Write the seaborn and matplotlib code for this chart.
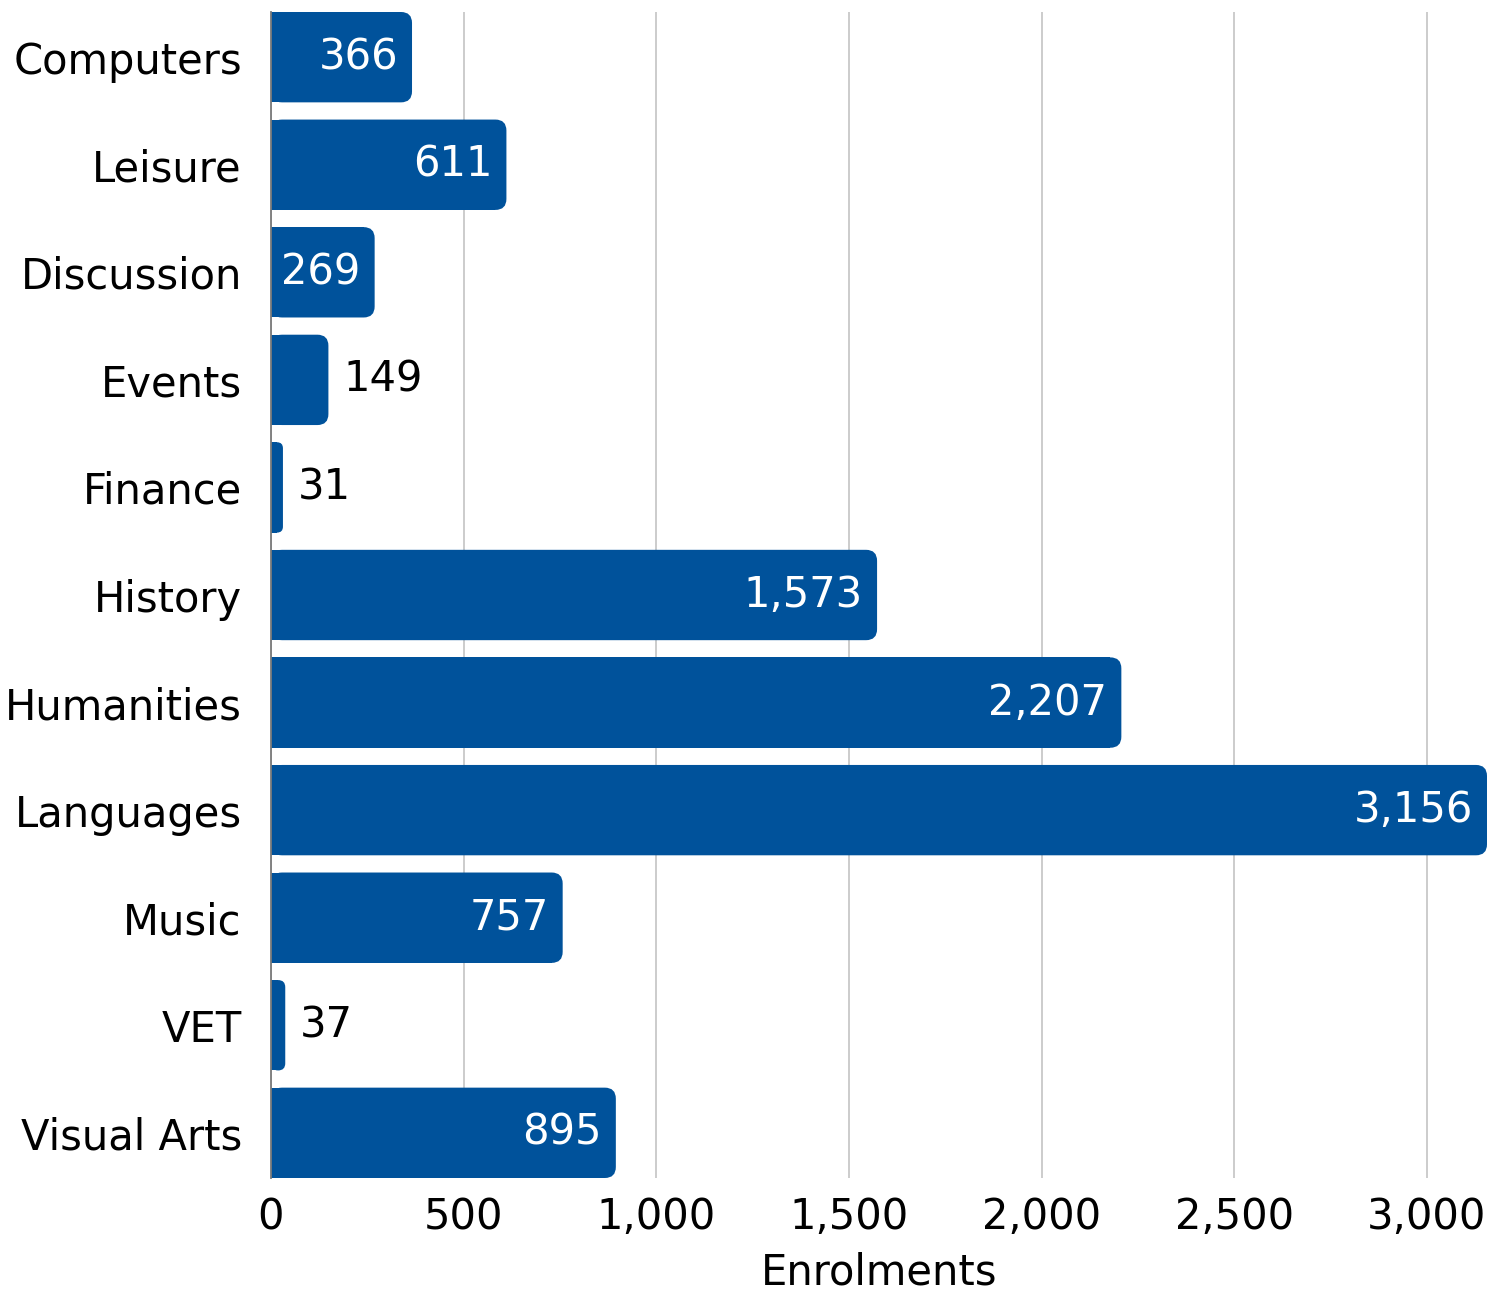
import matplotlib
matplotlib.use("Agg")
import matplotlib.pyplot as plt
import seaborn as sns
import pandas as pd
from matplotlib.patches import FancyBboxPatch, Rectangle
from matplotlib.ticker import FuncFormatter, MultipleLocator
from matplotlib.transforms import offset_copy

categories = ["Computers", "Leisure", "Discussion", "Events", "Finance", "History",
              "Humanities", "Languages", "Music", "VET", "Visual Arts"]
enrolments = [366, 611, 269, 149, 31, 1573, 2207, 3156, 757, 37, 895]
x_label = "Enrolments"

BAR_COLOR = "#00529B"
FONT = ["DejaVu Sans"]
FS = 30

sns.set_theme(style="white")
plt.rcParams["font.family"] = FONT

df = pd.DataFrame({"category": categories, "value": enrolments})

W, H, DPI = 1502, 1296, 100
fig = plt.figure(figsize=(W / DPI, H / DPI), dpi=DPI)
ax_left, ax_right, ax_top, ax_bottom = 271, 1487, 12, 1178
ax = fig.add_axes([ax_left / W, (H - ax_bottom) / H, (ax_right - ax_left) / W, (ax_bottom - ax_top) / H])

sns.barplot(data=df, x="value", y="category", orient="h", color=BAR_COLOR,
            width=0.84, saturation=1, ax=ax, zorder=2)

ax.set_xlim(0, max(enrolments))
ax.set_ylim(len(categories) - 1 + 0.42, -0.42)

# rounded right corners
fig.canvas.draw()
px_per_x = (ax.transData.transform((1, 0))[0] - ax.transData.transform((0, 0))[0])
px_per_y = abs(ax.transData.transform((0, 1))[1] - ax.transData.transform((0, 0))[1])
radius_px = 11
r_x = radius_px / px_per_x
aspect = px_per_x / px_per_y

for p in list(ax.patches):
    x0, y0 = p.get_x(), p.get_y()
    w, h = p.get_width(), p.get_height()
    p.remove()
    rr = min(r_x, w / 2)
    fb = FancyBboxPatch((x0, y0), w, h,
                        boxstyle=f"round,pad=0,rounding_size={rr}",
                        mutation_aspect=aspect, facecolor=BAR_COLOR,
                        edgecolor="none", zorder=2)
    ax.add_patch(fb)
    ax.add_patch(Rectangle((x0, y0), w - rr, h, facecolor=BAR_COLOR,
                           edgecolor="none", zorder=2))

# value labels
for i, v in enumerate(enrolments):
    txt = f"{v:,}"
    if v >= 200:
        tr = offset_copy(ax.transData, fig=fig, x=-14, y=0, units="dots")
        ax.text(v, i, txt, transform=tr, ha="right", va="center",
                color="white", fontsize=FS, zorder=3)
    else:
        tr = offset_copy(ax.transData, fig=fig, x=15, y=0, units="dots")
        ax.text(v, i, txt, transform=tr, ha="left", va="center",
                color="black", fontsize=FS, zorder=3)

ax.xaxis.set_major_locator(MultipleLocator(500))
ax.xaxis.set_major_formatter(FuncFormatter(lambda v, _: f"{int(v):,}"))
ax.grid(axis="x", color="#C8C8C8", linewidth=1.3, zorder=0)
ax.grid(axis="y", visible=False)
ax.set_axisbelow(True)
for s in ["top", "right", "bottom"]:
    ax.spines[s].set_visible(False)
ax.spines["left"].set_color("#7A7A7A")
ax.spines["left"].set_linewidth(1.3)
ax.spines["left"].set_zorder(4)

ax.tick_params(axis="both", length=0, labelsize=FS, colors="black")
ax.tick_params(axis="y", pad=21)
ax.tick_params(axis="x", pad=13)
ax.set_ylabel("")
ax.set_xlabel(x_label, fontsize=FS, color="black", labelpad=10)

fig.savefig("out.png", dpi=DPI)
